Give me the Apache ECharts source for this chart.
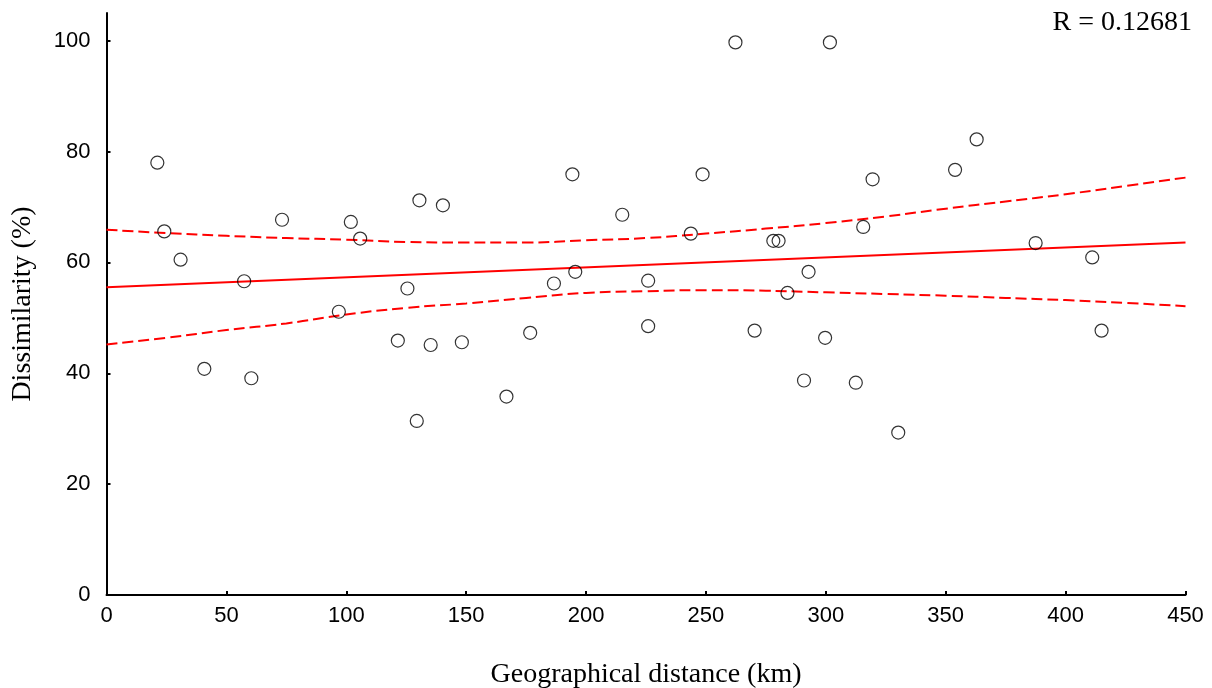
<!DOCTYPE html>
<html>
<head>
<meta charset="utf-8">
<script src="https://cdn.jsdelivr.net/npm/echarts@6/dist/echarts.min.js"></script>
<style>
html,body{margin:0;padding:0;background:#fff;}
#chart{width:1212px;height:688px;}
</style>
</head>
<body>
<div id="chart"></div>
<script>
// Scatter points: geographical distance (km) vs dissimilarity (%)
const distance = [21.2, 24.1, 30.9, 40.8, 57.4, 60.4, 73.2, 96.9, 101.9, 105.8,
  121.5, 125.5, 129.4, 130.5, 135.2, 140.3, 148.2, 166.8, 176.7, 186.6,
  194.3, 195.5, 215.1, 225.9, 225.9, 243.7, 248.6, 262.3, 270.3, 278.1,
  280.3, 284.0, 290.9, 292.8, 299.7, 301.7, 312.5, 315.6, 319.5, 330.2,
  353.9, 362.9, 387.5, 411.1, 415.0];
const dissimilarity = [78.0, 65.6, 60.5, 40.8, 56.6, 39.1, 67.7, 51.1, 67.3, 64.3,
  45.9, 55.3, 31.4, 71.2, 45.1, 70.3, 45.6, 35.8, 47.3, 56.2,
  75.9, 58.3, 68.6, 56.7, 48.5, 65.2, 75.9, 99.7, 47.7, 63.9,
  63.9, 54.5, 38.7, 58.3, 46.4, 99.7, 38.3, 66.4, 75.0, 29.3,
  76.7, 82.2, 63.5, 60.9, 47.7];

// Regression line
const fitX = [0, 450];
const fitY = [55.5, 63.6];

// Confidence band
const bandX = [0, 25, 50, 75, 100, 125, 150, 175, 200, 225, 250, 275, 300, 325, 350, 375, 400, 425, 450];
const bandUpper = [65.9, 65.3, 64.8, 64.4, 64.1, 63.7, 63.6, 63.6, 64.0, 64.4, 65.2, 66.1, 67.1, 68.3, 69.7, 71.0, 72.3, 73.8, 75.3];
const bandLower = [45.2, 46.4, 47.8, 49.0, 50.6, 51.8, 52.6, 53.6, 54.5, 54.8, 55.0, 54.9, 54.6, 54.3, 54.0, 53.6, 53.2, 52.7, 52.1];

// Ticks
const xTicks = [0, 50, 100, 150, 200, 250, 300, 350, 400, 450];
const yTicks = [0, 20, 40, 60, 80, 100];

const rText = 'R = 0.12681';
const xName = 'Geographical distance (km)';
const yName = 'Dissimilarity (%)';

const zip = (a, b) => a.map((v, i) => [v, b[i]]);

const chart = echarts.init(document.getElementById('chart'), null, {renderer: 'canvas'});
const serif = '"Liberation Serif", "Times New Roman", serif';
const sans = '"Liberation Sans", Arial, sans-serif';

chart.setOption({
  animation: false,
  backgroundColor: '#ffffff',
  grid: {left: 106.5, right: 26.5, top: 13, bottom: 93, containLabel: false, outerBoundsMode: 'none'},
  xAxis: {
    type: 'value', min: 0, max: 450, interval: 50,
    name: xName, nameLocation: 'middle', nameGap: 66,
    nameTextStyle: {fontFamily: serif, fontSize: 28, color: '#000'},
    axisLine: {show: true, lineStyle: {color: '#000', width: 2}},
    axisTick: {show: true, inside: true, length: 4, lineStyle: {color: '#000', width: 2}, customValues: xTicks},
    axisLabel: {fontFamily: sans, fontSize: 22, color: '#000', margin: 10, customValues: xTicks},
    splitLine: {show: false}
  },
  yAxis: {
    type: 'value', min: 0, max: 105,
    name: yName, nameLocation: 'middle', nameGap: 70,
    nameTextStyle: {fontFamily: serif, fontSize: 28, color: '#000'},
    axisLine: {show: true, lineStyle: {color: '#000', width: 2}},
    axisTick: {show: true, inside: true, length: 4, lineStyle: {color: '#000', width: 2}, customValues: yTicks},
    axisLabel: {fontFamily: sans, fontSize: 22, color: '#000', margin: 16, customValues: yTicks},
    splitLine: {show: false}
  },
  graphic: [{
    type: 'text', right: 20, top: 9,
    style: {text: rText, font: '28px ' + serif, fill: '#000'}
  }],
  series: [
    {
      type: 'line', data: zip(bandX, bandUpper), symbol: 'none', smooth: true,
      lineStyle: {color: '#ff0000', width: 2, type: [11, 5]}, z: 2
    },
    {
      type: 'line', data: zip(bandX, bandLower), symbol: 'none', smooth: true,
      lineStyle: {color: '#ff0000', width: 2, type: [11, 5]}, z: 2
    },
    {
      type: 'line', data: zip(fitX, fitY), symbol: 'none',
      lineStyle: {color: '#ff0000', width: 2}, z: 2
    },
    {
      type: 'scatter', data: zip(distance, dissimilarity), symbol: 'circle', symbolSize: 13,
      itemStyle: {color: 'rgba(255,255,255,0)', borderColor: '#000', borderWidth: 1.2}, z: 3
    }
  ]
});
</script>
</body>
</html>
